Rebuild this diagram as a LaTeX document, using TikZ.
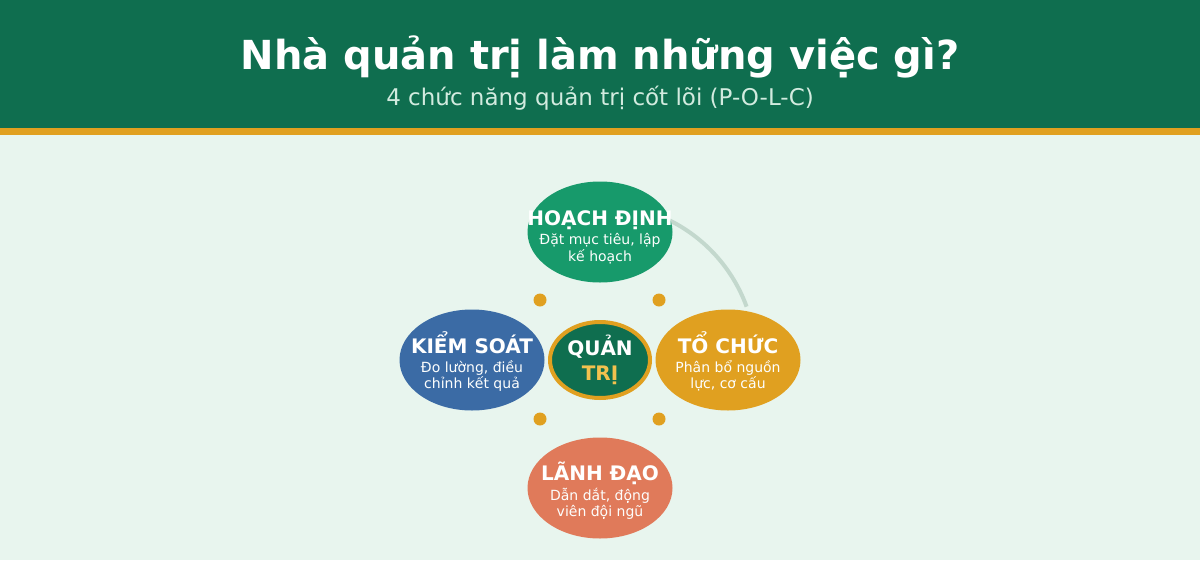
\documentclass[tikz,border=0pt]{standalone}
\usepackage{fontspec}
\setmainfont{DejaVu Sans}
\usetikzlibrary{shapes.geometric}
\definecolor{hdr}{HTML}{0F6E4F}
\definecolor{gold}{HTML}{E0A020}
\definecolor{bg}{HTML}{E8F5EE}
\definecolor{cplan}{HTML}{179A6B}
\definecolor{corg}{HTML}{E0A020}
\definecolor{clead}{HTML}{E07A5A}
\definecolor{cctrl}{HTML}{3B6BA5}
\definecolor{subtxt}{HTML}{D2EBDF}
\definecolor{arcc}{HTML}{C3D8CD}
\definecolor{trc}{HTML}{F2C14E}
\tikzset{
  func/.style={ellipse, minimum width=145pt, minimum height=101pt, inner sep=0pt},
  ftitle/.style={font=\bfseries\fontsize{20}{24}\selectfont, text=white, inner sep=0pt, anchor=base},
  fsub/.style={font=\fontsize{14}{17}\selectfont, text=white!90!bg, inner sep=0pt, anchor=base},
  dotc/.style={circle, fill=gold, minimum size=13pt, inner sep=0pt},
}
\begin{document}
\begin{tikzpicture}[x=1pt,y=-1pt]
\useasboundingbox (0,0) rectangle (1200,560);
\fill[bg] (0,0) rectangle (1200,560);
\fill[hdr] (0,0) rectangle (1200,128);
\fill[gold] (0,128) rectangle (1200,135);
\node[font=\bfseries\fontsize{40}{48}\selectfont, text=white, anchor=base, inner sep=0pt] (title) at (600,69) {Nhà quản trị làm những việc gì?};
\node[font=\fontsize{23}{27}\selectfont, text=subtxt, anchor=base, inner sep=0pt] (subtitle) at (600,105) {4 chức năng quản trị cốt lõi (P-O-L-C)};

\coordinate (c) at (600,360);
\draw[arcc, line width=4pt] ([shift={(-70:156)}]c) arc[start angle=-70, end angle=-20, radius=156];

\node[dotc] (d1) at (540,300) {};
\node[dotc] (d2) at (659,300) {};
\node[dotc] (d3) at (540,419) {};
\node[dotc] (d4) at (659,419) {};

\node[func, fill=cplan] (plan) at (600,232) {};
\node[func, fill=corg] (org) at (728,360) {};
\node[func, fill=clead] (lead) at (600,488) {};
\node[func, fill=cctrl] (ctrl) at (472,360) {};
\node[ellipse, fill=hdr, draw=gold, line width=4pt, minimum width=100pt, minimum height=76pt, inner sep=0pt] (core) at (600,360) {};

\node[ftitle] (planT) at (600,225) {HOẠCH ĐỊNH};
\node[fsub] (planS1) at (600,244) {Đặt mục tiêu, lập};
\node[fsub] (planS2) at (600,261) {kế hoạch};
\node[ftitle] (orgT) at (728,353) {TỔ CHỨC};
\node[fsub] (orgS1) at (728,372) {Phân bổ nguồn};
\node[fsub] (orgS2) at (728,388) {lực, cơ cấu};
\node[ftitle] (leadT) at (600,480) {LÃNH ĐẠO};
\node[fsub] (leadS1) at (600,500) {Dẫn dắt, động};
\node[fsub] (leadS2) at (600,516) {viên đội ngũ};
\node[ftitle] (ctrlT) at (472,353) {KIỂM SOÁT};
\node[fsub] (ctrlS1) at (472,372) {Đo lường, điều};
\node[fsub] (ctrlS2) at (472,388) {chỉnh kết quả};
\node[ftitle] (coreT) at (600,355) {QUẢN};
\node[ftitle, text=trc] (coreT2) at (600,380) {TRỊ};
\end{tikzpicture}
\end{document}
